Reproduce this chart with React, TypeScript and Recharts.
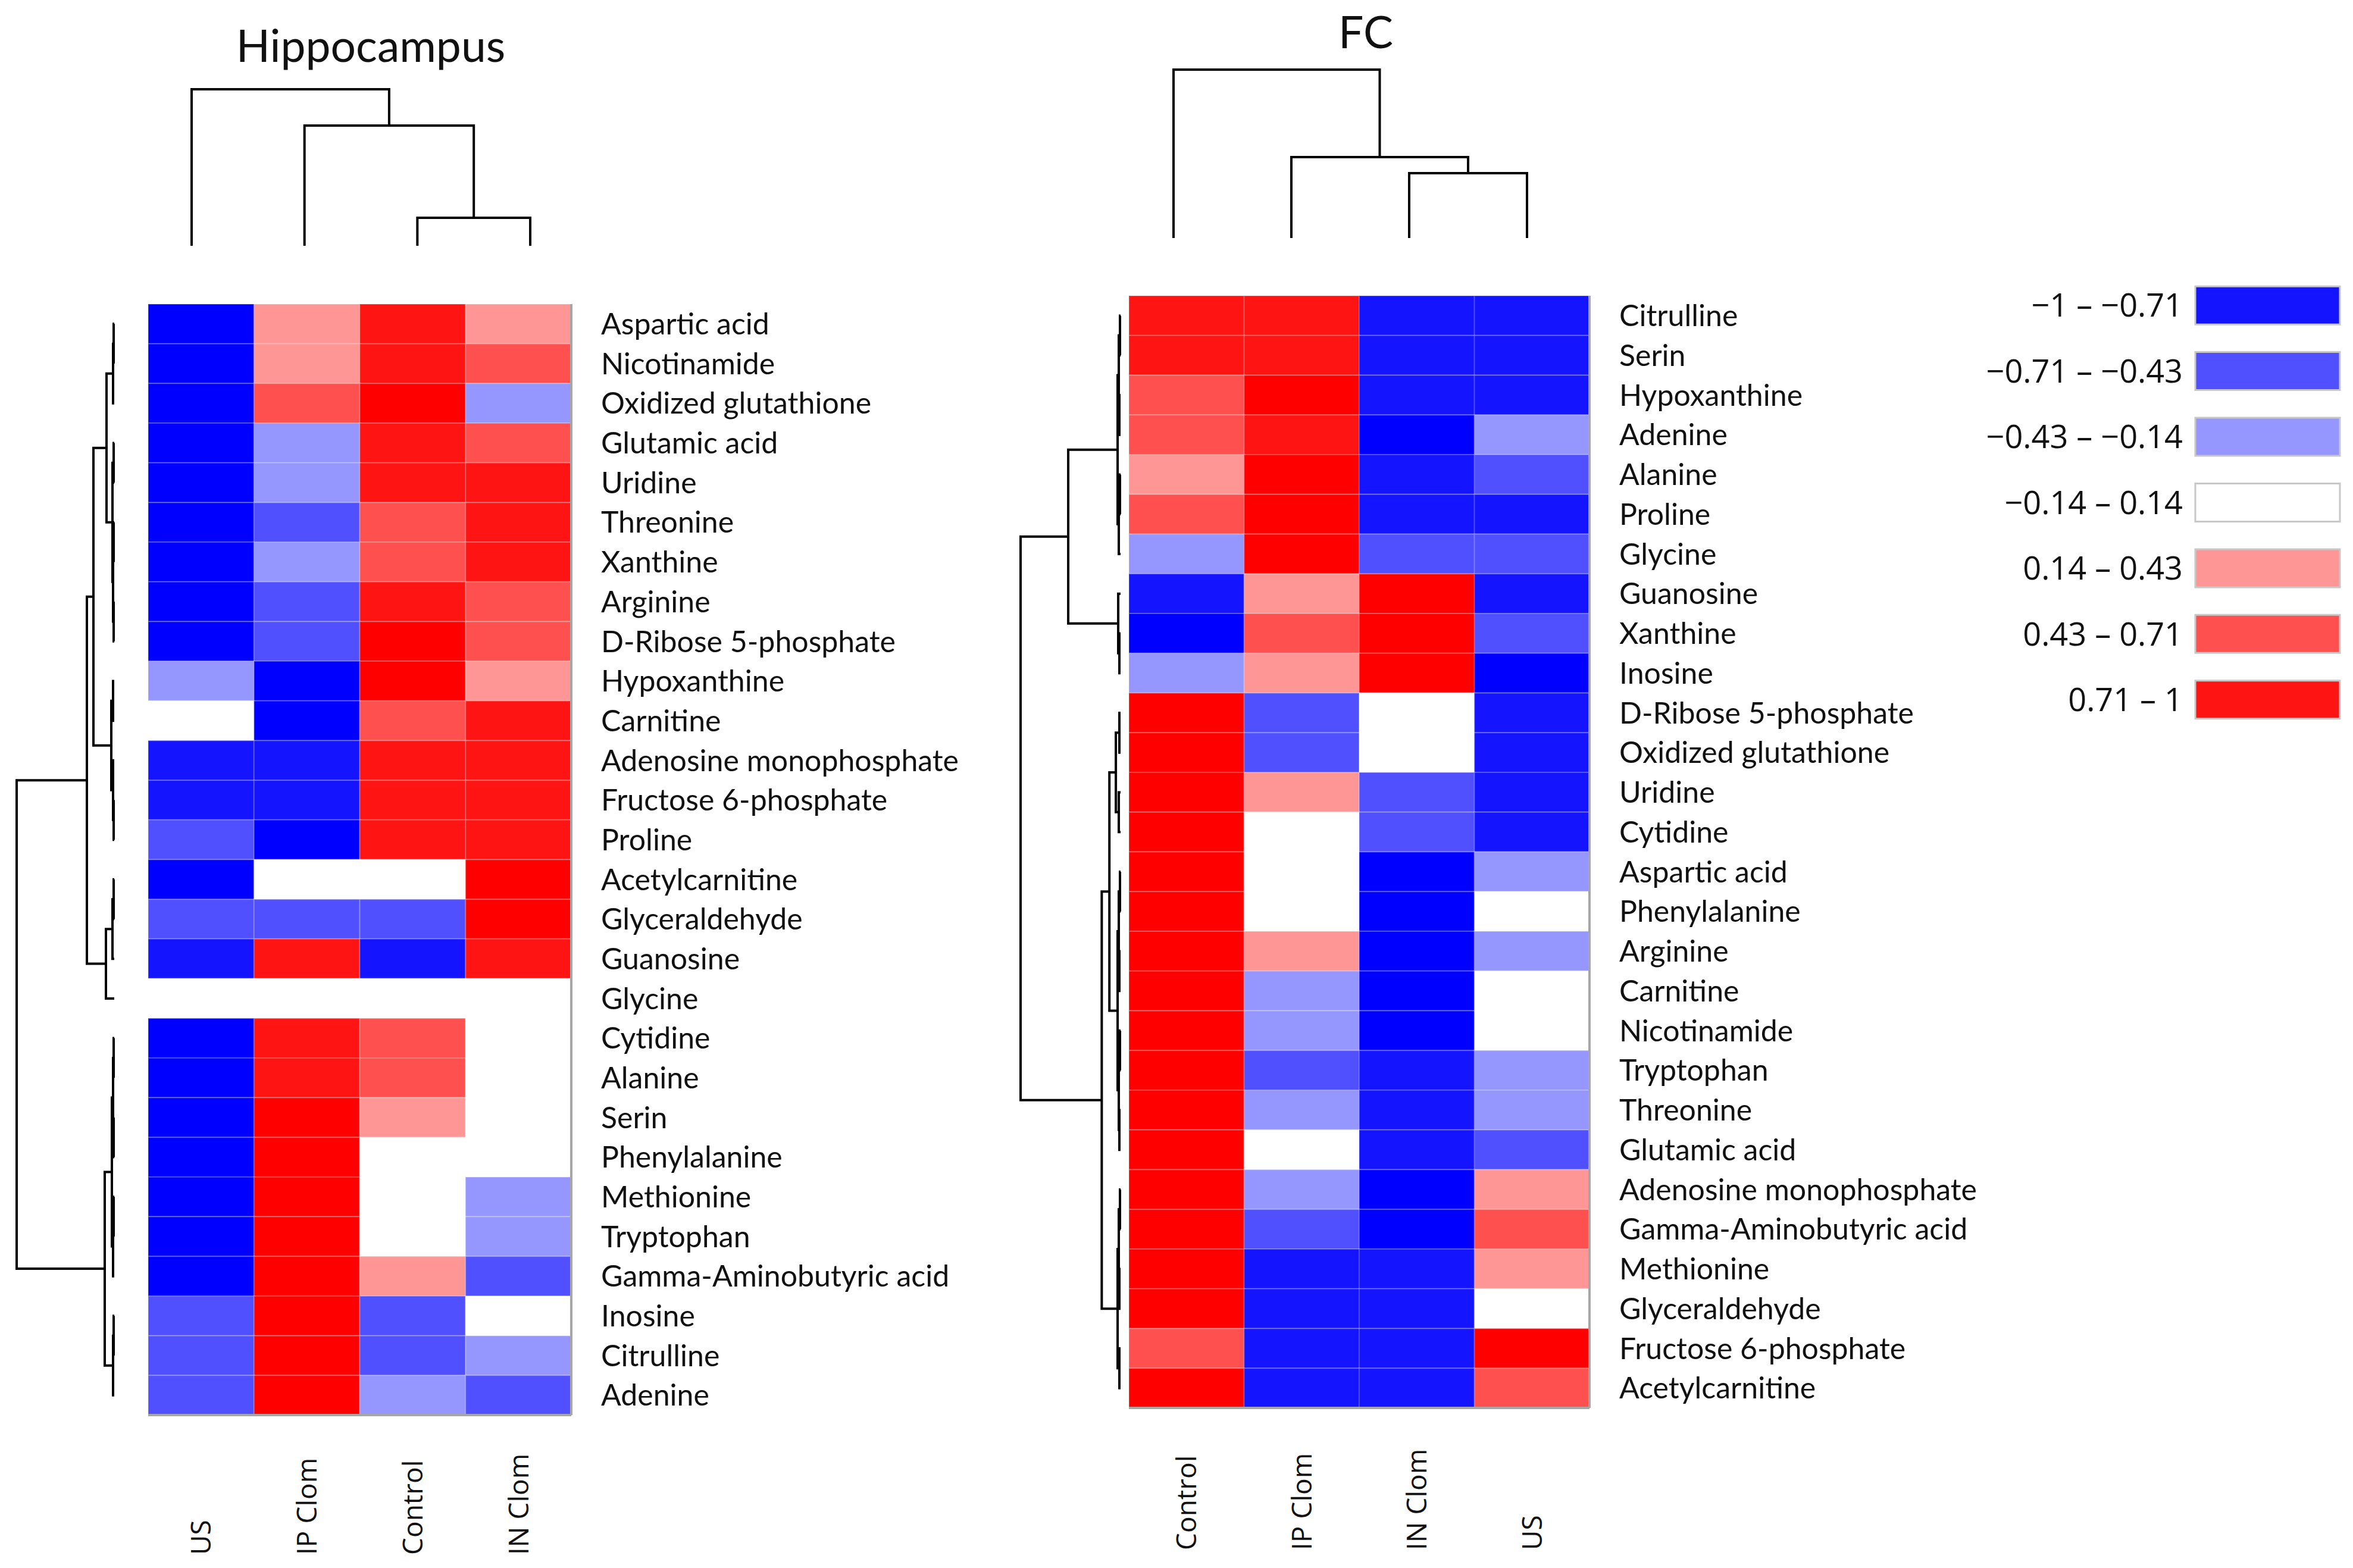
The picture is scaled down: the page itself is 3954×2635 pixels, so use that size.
import React from "react";
import {
  BarChart,
  Bar,
  Cell,
  XAxis,
  YAxis,
  ReferenceArea,
  ScatterChart,
  Scatter,
} from "recharts";

// ---- Hippocampus ----
const hipColumns = ["US", "IP Clom", "Control", "IN Clom"];
const hipRows = [
  "Aspartic acid",
  "Nicotinamide",
  "Oxidized glutathione",
  "Glutamic acid",
  "Uridine",
  "Threonine",
  "Xanthine",
  "Arginine",
  "D-Ribose 5-phosphate",
  "Hypoxanthine",
  "Carnitine",
  "Adenosine monophosphate",
  "Fructose 6-phosphate",
  "Proline",
  "Acetylcarnitine",
  "Glyceraldehyde",
  "Guanosine",
  "Glycine",
  "Cytidine",
  "Alanine",
  "Serin",
  "Phenylalanine",
  "Methionine",
  "Tryptophan",
  "Gamma-Aminobutyric acid",
  "Inosine",
  "Citrulline",
  "Adenine",
];
// one row per metabolite, in column order US, IP Clom, Control, IN Clom
const hipValues = [
  [-0.95, 0.28, 0.8, 0.28],
  [-0.95, 0.28, 0.8, 0.57],
  [-0.95, 0.57, 0.95, -0.28],
  [-0.95, -0.28, 0.8, 0.57],
  [-0.95, -0.28, 0.8, 0.8],
  [-0.95, -0.57, 0.57, 0.8],
  [-0.95, -0.28, 0.57, 0.8],
  [-0.95, -0.57, 0.8, 0.57],
  [-0.95, -0.57, 0.95, 0.57],
  [-0.28, -0.95, 0.95, 0.28],
  [0, -0.95, 0.57, 0.8],
  [-0.8, -0.8, 0.8, 0.8],
  [-0.8, -0.8, 0.8, 0.8],
  [-0.57, -0.95, 0.8, 0.8],
  [-0.95, 0, 0, 0.95],
  [-0.57, -0.57, -0.57, 0.95],
  [-0.8, 0.8, -0.8, 0.8],
  [0, 0, 0, 0],
  [-0.95, 0.8, 0.57, 0],
  [-0.95, 0.8, 0.57, 0],
  [-0.95, 0.95, 0.28, 0],
  [-0.95, 0.95, 0, 0],
  [-0.95, 0.95, 0, -0.28],
  [-0.95, 0.95, 0, -0.28],
  [-0.95, 0.95, 0.28, -0.57],
  [-0.57, 0.95, -0.57, 0],
  [-0.57, 0.95, -0.57, -0.28],
  [-0.57, 0.95, -0.28, -0.57],
];

// ---- FC ----
const fcColumns = ["Control", "IP Clom", "IN Clom", "US"];
const fcRows = [
  "Citrulline",
  "Serin",
  "Hypoxanthine",
  "Adenine",
  "Alanine",
  "Proline",
  "Glycine",
  "Guanosine",
  "Xanthine",
  "Inosine",
  "D-Ribose 5-phosphate",
  "Oxidized glutathione",
  "Uridine",
  "Cytidine",
  "Aspartic acid",
  "Phenylalanine",
  "Arginine",
  "Carnitine",
  "Nicotinamide",
  "Tryptophan",
  "Threonine",
  "Glutamic acid",
  "Adenosine monophosphate",
  "Gamma-Aminobutyric acid",
  "Methionine",
  "Glyceraldehyde",
  "Fructose 6-phosphate",
  "Acetylcarnitine",
];
// column order Control, IP Clom, IN Clom, US
const fcValues = [
  [0.8, 0.8, -0.8, -0.8],
  [0.8, 0.8, -0.8, -0.8],
  [0.57, 0.95, -0.8, -0.8],
  [0.57, 0.8, -0.95, -0.28],
  [0.28, 0.95, -0.8, -0.57],
  [0.57, 0.95, -0.8, -0.8],
  [-0.28, 0.95, -0.57, -0.57],
  [-0.8, 0.28, 0.95, -0.8],
  [-0.95, 0.57, 0.95, -0.57],
  [-0.28, 0.28, 0.95, -0.95],
  [0.95, -0.57, 0, -0.8],
  [0.95, -0.57, 0, -0.8],
  [0.95, 0.28, -0.57, -0.8],
  [0.95, 0, -0.57, -0.8],
  [0.95, 0, -0.95, -0.28],
  [0.95, 0, -0.95, 0],
  [0.95, 0.28, -0.95, -0.28],
  [0.95, -0.28, -0.95, 0],
  [0.95, -0.28, -0.95, 0],
  [0.95, -0.57, -0.8, -0.28],
  [0.95, -0.28, -0.8, -0.28],
  [0.95, 0, -0.8, -0.57],
  [0.95, -0.28, -0.95, 0.28],
  [0.95, -0.57, -0.95, 0.57],
  [0.95, -0.8, -0.8, 0.28],
  [0.95, -0.8, -0.8, 0],
  [0.57, -0.8, -0.8, 0.95],
  [0.95, -0.8, -0.8, 0.57],
];

// ---- dendrograms: leaf index, or [height, left, right] ----
type Tree = number | [number, Tree, Tree];

const hipRowTree: Tree = [
  164,
  [
    46,
    [
      35,
      [13, [2, [1, 0, 1], 2], [3, [1, 3, 4], [2, [1, 5, 6], [1, 7, 8]]]],
      [5, [2, 9, 10], [2, 11, [1, 12, 13]]],
    ],
    [14, [3, [1, 14, 15], 16], 17],
  ],
  [
    16,
    [4, [2, [1, 18, 19], [1, 20, 21]], [2, [1, 22, 23], 24]],
    [2, [1, 25, 26], 27],
  ],
];
const hipColTree: Tree = [263, 0, [202, 1, [47, 2, 3]]];

const fcRowTree: Tree = [
  170,
  [
    89,
    [5, [3, [1, 0, 1], [2, 2, 3]], [3, [1, 4, 5], 6]],
    [4, 7, [2, 8, 9]],
  ],
  [
    32,
    [
      19,
      [8, [2, 10, 11], [3, 12, 13]],
      [5, [3, [1, 14, 15], [2, 16, 17]], [3, [1, 18, 19], [2, 20, 21]]],
    ],
    [5, [3, [1, 22, 23], [2, 24, 25]], [2, 26, 27]],
  ],
];
const fcColTree: Tree = [283, 0, [136, 1, [109, 2, 3]]];

// ---- colour key ----
const legendBins = [
  "\u22121 \u2013 \u22120.71",
  "\u22120.71 \u2013  \u22120.43",
  "\u22120.43 \u2013  \u22120.14",
  "\u22120.14 \u2013 0.14",
  "0.14 \u2013 0.43",
  "0.43 \u2013 0.71",
  "0.71 \u2013 1",
];
const legendValues = [-0.85, -0.57, -0.28, 0, 0.28, 0.57, 0.85];

const PAGE_H = 2635;

const colorOf = (v: number) => {
  if (v <= -0.9) return "#0000FF";
  if (v <= -0.71) return "#1414FF";
  if (v <= -0.43) return "#5050FF";
  if (v <= -0.14) return "#9696FF";
  if (v < 0.14) return "#FFFFFF";
  if (v < 0.43) return "#FF9696";
  if (v < 0.71) return "#FF5050";
  if (v < 0.9) return "#FF1414";
  return "#FF0000";
};

type Pt = { pos: number; h: number };

function layoutTree(node: Tree, leafPos: (i: number) => number, out: Pt[][]): Pt {
  if (typeof node === "number") return { pos: leafPos(node), h: 0 };
  const [h, a, b] = node;
  const A = layoutTree(a, leafPos, out);
  const B = layoutTree(b, leafPos, out);
  out.push([
    { pos: A.pos, h: A.h },
    { pos: A.pos, h },
    { pos: B.pos, h },
    { pos: B.pos, h: B.h },
  ]);
  return { pos: (A.pos + B.pos) / 2, h };
}

const NoDot = () => null;
const LINK = { stroke: "#000", strokeWidth: 4 };

const RowDendrogram = ({ tree, maxH, left, width, margin }: any) => {
  const links: Pt[][] = [];
  layoutTree(tree, (i) => i + 0.5, links);
  return (
    <div style={{ position: "absolute", left, top: 0 }}>
      <ScatterChart width={width} height={PAGE_H} margin={margin}>
        <XAxis type="number" dataKey="x" domain={[0, maxH]} reversed hide />
        <YAxis type="number" dataKey="y" domain={[0, 28]} reversed hide />
        {links.map((l, k) => (
          <Scatter
            key={k}
            data={l.map((p) => ({ x: p.h, y: p.pos }))}
            line={LINK}
            shape={NoDot}
            isAnimationActive={false}
          />
        ))}
      </ScatterChart>
    </div>
  );
};

const ColDendrogram = ({ tree, maxH, left, width, margin }: any) => {
  const links: Pt[][] = [];
  layoutTree(tree, (i) => i, links);
  return (
    <div style={{ position: "absolute", left, top: 0 }}>
      <ScatterChart width={width} height={480} margin={margin}>
        <XAxis type="number" dataKey="x" domain={[0, 3]} hide />
        <YAxis type="number" dataKey="y" domain={[0, maxH]} hide />
        {links.map((l, k) => (
          <Scatter
            key={k}
            data={l.map((p) => ({ x: p.pos, y: p.h }))}
            line={LINK}
            shape={NoDot}
            isAnimationActive={false}
          />
        ))}
      </ScatterChart>
    </div>
  );
};

const ColumnTick = (props: any) => {
  const { x, y, payload } = props;
  return (
    <text
      x={x}
      y={y}
      dy="0.36em"
      transform={`rotate(-90, ${x}, ${y})`}
      textAnchor="start"
      fontFamily="'Open Sans', sans-serif"
      fontSize={46}
      fill="#111"
    >
      {payload.value}
    </text>
  );
};

const boundaries = Array.from({ length: 29 }, (_, i) => i);
const centers = Array.from({ length: 28 }, (_, i) => i + 0.5);
const GRID = "#a6a6a6";

const Heatmap = ({ columns, rows, values, left, width, margin, labelWidth, labelHeight, labelOffset }: any) => {
  const data = columns.map((c: string) => {
    const d: any = { col: c };
    rows.forEach((_: string, i: number) => (d["r" + i] = 1));
    return d;
  });
  return (
    <div style={{ position: "absolute", left, top: 0 }}>
      <BarChart
        width={width}
        height={PAGE_H}
        data={data}
        margin={margin}
        barCategoryGap={0}
        barGap={0}
      >
        {/* column names, far below the grid */}
        <XAxis
          xAxisId="z"
          dataKey="col"
          height={labelHeight}
          interval={0}
          axisLine={false}
          tickLine={false}
          tickSize={0}
          tickMargin={labelOffset}
          tick={<ColumnTick />}
        />
        {/* tick marks at column boundaries */}
        <XAxis
          xAxisId="a"
          type="number"
          domain={[0, 4]}
          allowDataOverflow
          ticks={[0, 1, 2, 3, 4]}
          interval={0}
          height={20}
          tick={false}
          tickSize={18}
          axisLine={{ stroke: GRID, strokeWidth: 4 }}
          tickLine={{ stroke: GRID, strokeWidth: 3 }}
        />
        <YAxis
          yAxisId="z"
          type="number"
          orientation="right"
          domain={[0, 28]}
          allowDataOverflow
          reversed
          ticks={centers}
          interval={0}
          width={labelWidth}
          axisLine={false}
          tickLine={false}
          tickSize={0}
          tickMargin={30}
          tickFormatter={(v: number) => rows[Math.floor(v)]}
          tick={{ fontFamily: "Lato, sans-serif", fontSize: 50, fill: "#111" }}
        />
        <YAxis
          yAxisId="a"
          type="number"
          orientation="right"
          domain={[0, 28]}
          allowDataOverflow
          reversed
          ticks={boundaries}
          interval={0}
          width={20}
          tick={false}
          tickSize={18}
          axisLine={{ stroke: GRID, strokeWidth: 4 }}
          tickLine={{ stroke: GRID, strokeWidth: 3 }}
        />
        {rows.map((_: string, i: number) => (
          <Bar
            key={i}
            dataKey={"r" + i}
            stackId="s"
            xAxisId="z"
            yAxisId="a"
            isAnimationActive={false}
          >
            {columns.map((_c: string, j: number) => (
              <Cell
                key={j}
                fill={colorOf(values[i][j])}
                stroke="rgba(255,255,255,0.22)"
                strokeWidth={2}
              />
            ))}
          </Bar>
        ))}
        <ReferenceArea
          xAxisId="a"
          yAxisId="a"
          x1={0}
          x2={4}
          y1={0}
          y2={28}
          fill="none"
          fillOpacity={0}
          stroke="#b4b4b4"
          strokeWidth={4}
        />
      </BarChart>
    </div>
  );
};

const legendData = legendBins.map((label) => ({ label, span: 1 }));

const ColourKey = () => (
  <div style={{ position: "absolute", left: 3300, top: 458 }}>
    <BarChart
      width={654}
      height={773}
      layout="vertical"
      data={legendData}
      margin={{ top: 0, right: 22, bottom: 0, left: 0 }}
      barCategoryGap="21%"
    >
      <XAxis type="number" domain={[0, 1]} hide />
      <YAxis
        type="category"
        dataKey="label"
        width={389}
        interval={0}
        tickLine={false}
        axisLine={false}
        tickSize={0}
        tickMargin={21}
        tick={{ fontFamily: "'Open Sans', sans-serif", fontSize: 54, fill: "#111" }}
      />
      <Bar dataKey="span" isAnimationActive={false} stroke="#c8c8c8" strokeWidth={3}>
        {legendValues.map((v, i) => (
          <Cell key={i} fill={colorOf(v)} />
        ))}
      </Bar>
    </BarChart>
  </div>
);

const titleStyle = (center: number, top: number): React.CSSProperties => ({
  position: "absolute",
  left: center - 500,
  top,
  width: 1000,
  textAlign: "center",
  fontFamily: "Lato, sans-serif",
  fontSize: 75,
  lineHeight: 1,
  color: "#111",
});

export default function App() {
  return (
    <div
      style={{
        position: "absolute",
        left: 0,
        top: 0,
        width: 3954,
        height: PAGE_H,
        background: "#fff",
        overflow: "hidden",
      }}
    >
      <div style={titleStyle(623, 38)}>Hippocampus</div>
      <div style={titleStyle(2295, 15)}>FC</div>

      <ColDendrogram
        tree={hipColTree}
        maxH={263}
        left={0}
        width={1100}
        margin={{ top: 150, right: 209, bottom: 67, left: 322 }}
      />
      <ColDendrogram
        tree={fcColTree}
        maxH={283}
        left={1850}
        width={900}
        margin={{ top: 117, right: 184, bottom: 80, left: 122 }}
      />

      <RowDendrogram
        tree={hipRowTree}
        maxH={164}
        left={0}
        width={260}
        margin={{ top: 511, right: 68, bottom: 257, left: 28 }}
      />
      <RowDendrogram
        tree={fcRowTree}
        maxH={170}
        left={1650}
        width={260}
        margin={{ top: 497, right: 27, bottom: 269, left: 65 }}
      />

      <Heatmap
        columns={hipColumns}
        rows={hipRows}
        values={hipValues}
        left={0}
        width={1700}
        margin={{ top: 511, right: 0, bottom: 0, left: 249 }}
        labelWidth={720}
        labelHeight={237}
        labelOffset={215}
      />
      <Heatmap
        columns={fcColumns}
        rows={fcRows}
        values={fcValues}
        left={1650}
        width={1750}
        margin={{ top: 497, right: 0, bottom: 0, left: 247 }}
        labelWidth={709}
        labelHeight={249}
        labelOffset={219}
      />

      <ColourKey />
    </div>
  );
}
